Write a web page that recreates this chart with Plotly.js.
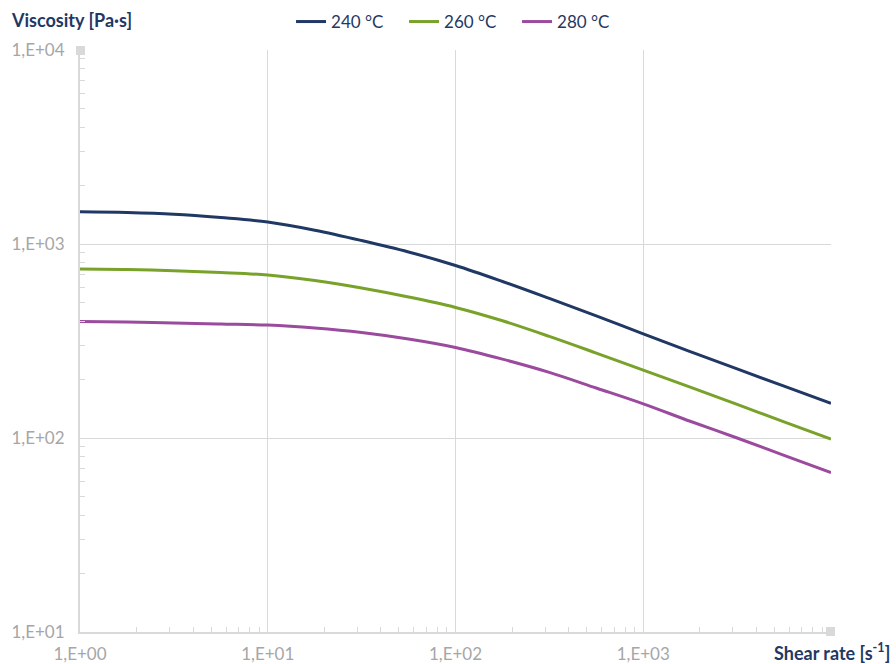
<!DOCTYPE html>
<html>
<head>
<meta charset="utf-8">
<script src="https://cdn.plot.ly/plotly-3.0.1.min.js"></script>
<style>html,body{margin:0;padding:0;background:#fff;}#chart{width:896px;height:664px;}</style>
</head>
<body>
<div id="chart"></div>
<script>
// Shear rate [1/s]
const shearRate = [1, 1.78, 3.16, 5.62, 10, 17.8, 31.6, 56.2, 100, 178, 316, 562, 1000, 1778, 3162, 5623, 10000];
// Viscosity [Pa·s]
const visc240 = [1467, 1454, 1425, 1369, 1298, 1178, 1042, 910, 775, 641, 524, 426, 344, 279, 227, 185, 151];
const visc260 = [743, 739, 728, 713, 692, 648, 593, 533, 471, 402, 334, 274, 224, 183, 149, 121, 98.8];
const visc280 = [398, 396, 392, 387, 382, 369, 350, 324, 293, 255, 218, 181, 150, 122, 100, 81.4, 66.4];
const seriesNames = ['240 °C', '260 °C', '280 °C'];
const seriesColors = ['#1f3864', '#78a22a', '#9b4b9d'];

const xTickVals = [1, 10, 100, 1000, 10000];
const xTickText = ['1,E+00', '1,E+01', '1,E+02', '1,E+03', ''];
const yTickVals = [10, 100, 1000, 10000];
const yTickText = ['1,E+01', '1,E+02', '1,E+03', '1,E+04'];

function minorVals(lo, hi) {
  const out = [];
  for (let d = lo; d < hi; d *= 10) for (let k = 2; k <= 9; k++) out.push(d * k);
  return out;
}

const traces = [visc240, visc260, visc280].map((v, i) => ({
  x: shearRate, y: v, type: 'scatter', mode: 'lines', name: seriesNames[i],
  line: {color: seriesColors[i], width: 3, shape: 'spline', smoothing: 1}
}));

const gray = '#d9d9d9';
const tickGray = '#a6a6a6';
const navy = '#1f3864';
const layout = {
  width: 896, height: 664,
  margin: {l: 80, r: 65, t: 50, b: 32},
  paper_bgcolor: '#fff', plot_bgcolor: '#fff',
  font: {family: 'Lato, "Open Sans", sans-serif', size: 17, color: tickGray},
  showlegend: true,
  legend: {orientation: 'h', x: 0.5067, xanchor: 'center', xref: 'paper',
           y: 1 - 22 / 664, yanchor: 'middle', yref: 'container',
           font: {size: 17, color: navy}, itemwidth: 30, entrywidth: 68,
           bgcolor: 'rgba(0,0,0,0)'},
  xaxis: {
    type: 'log', range: [0, 4], tickmode: 'array', tickvals: xTickVals, ticktext: xTickText,
    showgrid: true, gridcolor: gray, gridwidth: 1, zeroline: false,
    showline: true, linecolor: gray, linewidth: 2, ticks: '', ticklen: 0,
    ticklabelstandoff: 6,
    tickfont: {size: 17, color: tickGray},
    minor: {tickmode: 'array', tickvals: minorVals(1, 10000), ticks: 'inside', ticklen: 5, tickcolor: gray, tickwidth: 1, showgrid: false}
  },
  yaxis: {
    type: 'log', range: [1, 4], tickmode: 'array', tickvals: yTickVals, ticktext: yTickText,
    showgrid: true, gridcolor: gray, gridwidth: 1, zeroline: false,
    showline: true, linecolor: gray, linewidth: 2, ticks: '', ticklen: 0,
    ticklabelstandoff: 10,
    tickfont: {size: 17, color: tickGray},
    minor: {tickmode: 'array', tickvals: minorVals(10, 10000), ticks: 'inside', ticklen: 5, tickcolor: gray, tickwidth: 1, showgrid: false}
  },
  annotations: [
    {text: '<b>Viscosity [Pa·s]</b>', xref: 'paper', yref: 'paper', x: -0.094, y: (632 - 20) / 582,
     xanchor: 'left', yanchor: 'middle', showarrow: false, font: {size: 18, color: navy}},
    {text: '<b>Shear rate [s<sup>-1</sup>]</b>', xref: 'paper', yref: 'paper', x: (891 - 80) / 751, y: (632 - 652) / 582,
     xanchor: 'right', yanchor: 'middle', showarrow: false, borderpad: 0, font: {size: 18, color: navy}}
  ],
  shapes: [
    {type: 'rect', xref: 'paper', yref: 'paper', xsizemode: 'pixel', ysizemode: 'pixel',
     xanchor: 0, yanchor: 1, x0: -4, x1: 5, y0: -5, y1: 4, fillcolor: gray, line: {width: 0}},
    {type: 'rect', xref: 'paper', yref: 'paper', xsizemode: 'pixel', ysizemode: 'pixel',
     xanchor: 1, yanchor: 0, x0: -5, x1: 4, y0: -4, y1: 5, fillcolor: gray, line: {width: 0}}
  ]
};

Plotly.newPlot('chart', traces, layout, {displayModeBar: false, staticPlot: true});
</script>
</body>
</html>
